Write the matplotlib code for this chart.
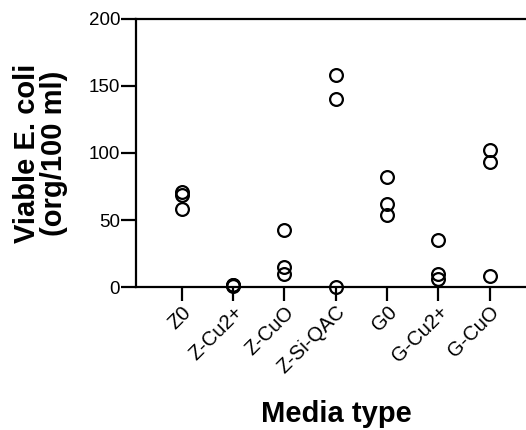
import numpy as np
import matplotlib.pyplot as plt

plt.rcParams["font.family"] = ["Liberation Sans", "DejaVu Sans"]

# -----------------------------
# Data
# -----------------------------
media = ["Z0", "Z-Cu2+", "Z-CuO", "Z-Si-QAC", "G0", "G-Cu2+", "G-CuO"]
z0 = [71, 69, 58]
z_cu2 = [2, 1.5, 1]
z_cuo = [43, 15, 10]
z_siqac = [158, 140, 0]
g0 = [82, 62, 54]
g_cu2 = [35, 10, 6]
g_cuo = [102, 93, 8]
groups = [z0, z_cu2, z_cuo, z_siqac, g0, g_cu2, g_cuo]
y_ticks = [0, 50, 100, 150, 200]

# -----------------------------
# Plot
# -----------------------------
fig = plt.figure(figsize=(5.26, 4.30), dpi=100)
ax = fig.add_axes([0.2586, 0.332, 0.76, 0.6245])

for i, vals in enumerate(groups):
    xs = np.full(len(vals), i + 1)
    ax.plot(xs, vals, "o", ms=9.2, mfc="none", mec="black", mew=1.6,
            clip_on=False, zorder=3)

ax.set_xlim(0.11, 7.9)
ax.set_ylim(0, 200)
ax.set_xticks(np.arange(1, len(media) + 1))
ax.set_xticklabels(media, rotation=45, ha="right", rotation_mode="anchor",
                   fontsize=14.5)
ax.set_yticks(y_ticks)
ax.tick_params(axis="y", labelsize=13.5, length=11, width=1.6, pad=0.5)
ax.tick_params(axis="x", length=10, width=1.6, pad=1)

for side in ["left", "top", "bottom"]:
    ax.spines[side].set_linewidth(1.6)
ax.spines["right"].set_visible(False)

ax.set_ylabel("Viable E. coli\n(org/100 ml)", fontsize=21, fontweight="bold",
              linespacing=0.95, labelpad=15)
ax.set_xlabel("Media type", fontsize=21, fontweight="bold", labelpad=16)

fig.savefig("out.png", dpi=100)
